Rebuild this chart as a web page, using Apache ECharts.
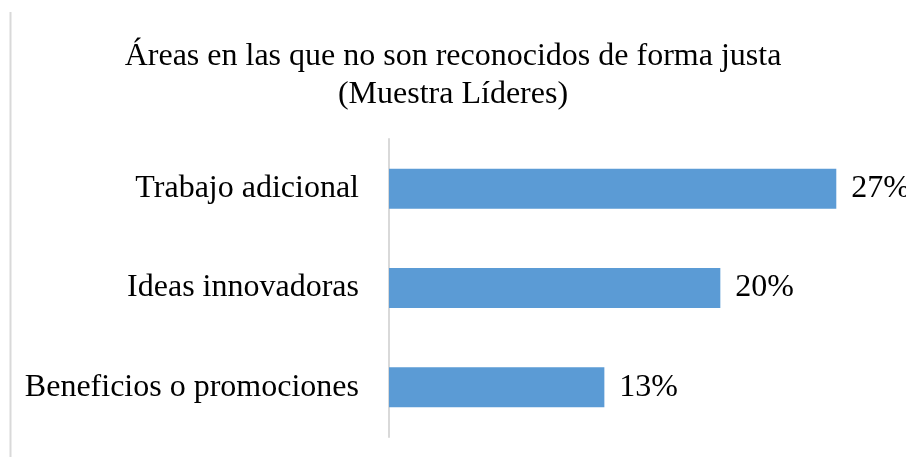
<!DOCTYPE html>
<html>
<head>
<meta charset="utf-8">
<script src="https://cdn.jsdelivr.net/npm/echarts@6/dist/echarts.min.js"></script>
<style>
  html, body { margin: 0; padding: 0; background: #fff; }
  #chart { width: 906px; height: 457px; }
</style>
</head>
<body>
<div id="chart"></div>
<script>
// data
var categories = ['Beneficios o promociones', 'Ideas innovadoras', 'Trabajo adicional'];
var values = [13, 20, 27];
var titleText = 'Áreas en las que no son reconocidos de forma justa\n(Muestra Líderes)';

var font = '"Liberation Serif", "Times New Roman", serif';

var myChart = echarts.init(document.getElementById('chart'));
var option = {
    animation: false,
    backgroundColor: '#ffffff',
    title: {
        text: titleText,
        left: 'center',
        top: 33,
        textStyle: {
            fontFamily: font,
            fontWeight: 'normal',
            fontSize: 32,
            lineHeight: 38,
            color: '#000'
        }
    },
    graphic: [
        {
            type: 'line',
            shape: { x1: 10.5, y1: 12, x2: 10.5, y2: 457 },
            style: { stroke: '#d9d9d9', lineWidth: 2 }
        }
    ],
    grid: {
        left: 389,
        right: 20,
        top: 139,
        bottom: 20,
        containLabel: false
    },
    xAxis: {
        type: 'value',
        min: 0,
        max: 30,
        show: false
    },
    yAxis: {
        type: 'category',
        data: categories,
        axisLine: { show: true, lineStyle: { color: '#d9d9d9', width: 2 } },
        axisTick: { show: false },
        axisLabel: {
            fontFamily: font,
            fontSize: 32,
            color: '#000',
            margin: 30
        }
    },
    series: [
        {
            type: 'bar',
            data: values,
            barWidth: 40,
            itemStyle: { color: '#5b9bd5' },
            label: {
                show: true,
                position: 'right',
                distance: 15,
                formatter: '{c}%',
                fontFamily: font,
                fontSize: 32,
                color: '#000'
            }
        }
    ]
};
myChart.setOption(option);
</script>
</body>
</html>
